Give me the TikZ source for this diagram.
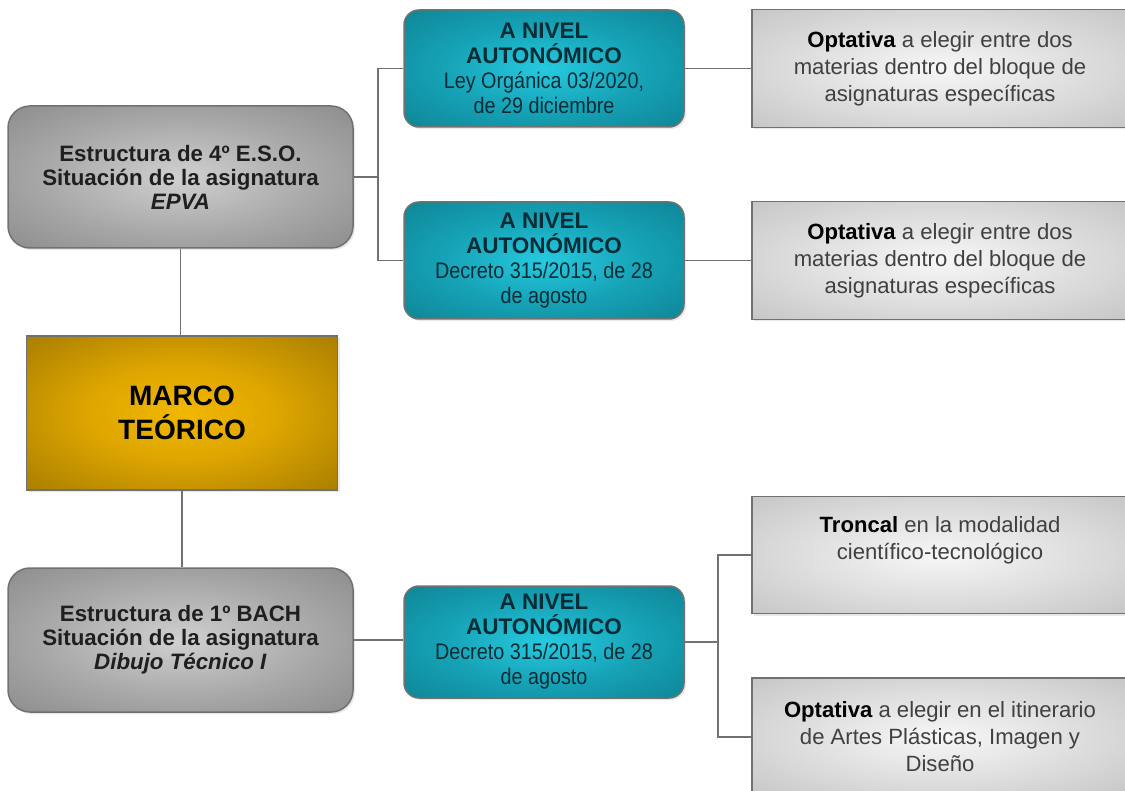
\documentclass[tikz,border=0pt]{standalone}
\usepackage{fontspec}
\setmainfont{Liberation Sans}
\newfontfamily\narrowfont[FakeStretch=0.88]{Liberation Sans}
\usepackage{tikz}
\usetikzlibrary{shadows}

\definecolor{linea}{HTML}{717171}
\definecolor{textoteal}{HTML}{062C36}

\pgfdeclareradialshading{sombragris}{\pgfpoint{0bp}{0bp}}{color(0bp)=(rgb,255:red,208;green,208;blue,208); color(20bp)=(rgb,255:red,168;green,168;blue,168); color(40bp)=(rgb,255:red,133;green,133;blue,133); color(50bp)=(rgb,255:red,120;green,120;blue,120); color(71bp)=(rgb,255:red,110;green,110;blue,110)}
\pgfdeclareradialshading{sombrateal}{\pgfpoint{0bp}{0bp}}{color(0bp)=(rgb,255:red,38;green,202;blue,224); color(18bp)=(rgb,255:red,22;green,162;blue,182); color(38bp)=(rgb,255:red,13;green,130;blue,146); color(50bp)=(rgb,255:red,11;green,118;blue,132); color(71bp)=(rgb,255:red,10;green,106;blue,118)}
\pgfdeclareradialshading{sombraoro}{\pgfpoint{0bp}{0bp}}{color(0bp)=(rgb,255:red,242;green,183;blue,0); color(15bp)=(rgb,255:red,222;green,166;blue,0); color(32bp)=(rgb,255:red,178;green,133;blue,0); color(50bp)=(rgb,255:red,146;green,110;blue,0); color(71bp)=(rgb,255:red,130;green,98;blue,0)}
\pgfdeclareradialshading{sombraplata}{\pgfpoint{0bp}{0bp}}{color(0bp)=(rgb,255:red,247;green,247;blue,247); color(20bp)=(rgb,255:red,220;green,220;blue,220); color(40bp)=(rgb,255:red,192;green,192;blue,192); color(50bp)=(rgb,255:red,178;green,178;blue,178); color(71bp)=(rgb,255:red,165;green,165;blue,165)}

\tikzset{
  caja/.style={draw=linea, line width=1.5pt, align=center, inner sep=0pt, shade,
    drop shadow={opacity=0.18, shadow xshift=2pt, shadow yshift=-2pt}},
  estructura/.style={caja, rounded corners=22pt, shading=sombragris,
    minimum width=345pt, minimum height=142pt, text=black!88,
    font=\fontsize{22.3}{24}\selectfont\bfseries},
  autonomico/.style={caja, rounded corners=15pt, shading=sombrateal,
    minimum width=280pt, minimum height=117pt, text=textoteal,
    font=\fontsize{22.5}{25}\selectfont},
  materia/.style={caja, shading=sombraplata,
    minimum width=376pt, minimum height=118pt, text=black!75,
    font=\fontsize{22.1}{27}\selectfont},
  conector/.style={draw=linea, line width=1.5pt}
}

\begin{document}
\begin{tikzpicture}[x=1pt,y=-1pt]
        \useasboundingbox (0,0) rectangle (1125,791);
        \clip (0,0) rectangle (1125,791);

        %CONECTORES
        \coordinate (busA) at (378,177);
        \coordinate (busC) at (718,642);

        %CAJAS IZQUIERDA
        \node[estructura] (eso) at (180.5,177) {Estructura de 4º E.S.O.\\Situación de la asignatura\\\textit{EPVA}};
        \node[caja, shading=sombraoro, minimum width=311pt, minimum height=154pt, text=black, font=\fontsize{28}{34}\selectfont\bfseries] (marco) at (182,413) {MARCO\\TEÓRICO};
        \node[estructura, minimum height=144pt] (bach) at (180.5,640) {Estructura de 1º BACH\\Situación de la asignatura\\\textit{Dibujo Técnico I}};

        %A NIVEL AUTONOMICO
        \node[autonomico] (autA) at (544,68.5) {\textbf{A NIVEL}\\\textbf{AUTONÓMICO}\\{\narrowfont Ley Orgánica 03/2020,}\\{\narrowfont de 29 diciembre}};
        \node[autonomico] (autB) at (544,260.5) {\textbf{A NIVEL}\\\textbf{AUTONÓMICO}\\{\narrowfont Decreto 315/2015, de 28}\\{\narrowfont de agosto}};
        \node[autonomico, minimum height=112pt] (autC) at (544,642) {\textbf{A NIVEL}\\\textbf{AUTONÓMICO}\\{\narrowfont Decreto 315/2015, de 28}\\{\narrowfont de agosto}};

        %MATERIAS
        \node[materia] (optA) at (940,68.5) {\textbf{\color{black}Optativa} a elegir entre dos\\materias dentro del bloque de\\asignaturas específicas};
        \node[materia] (optB) at (940,260.5) {\textbf{\color{black}Optativa} a elegir entre dos\\materias dentro del bloque de\\asignaturas específicas};
        \node[materia, minimum height=117pt] (tronc) at (940,555) {\textbf{\color{black}Troncal} en la modalidad\\científico-tecnológico\\[8pt]};
        \node[materia] (optC) at (940,737) {\textbf{\color{black}Optativa} a elegir en el itinerario\\de Artes Plásticas, Imagen y\\Diseño};

        %LINEAS
        \draw[conector] (eso.east) -- (busA);
        \draw[conector] (autA.west) -| (busA) |- (autB.west);
        \draw[conector] (autA.east) -- (optA.west);
        \draw[conector] (autB.east) -- (optB.west);
        \draw[conector] (eso.south) -- (eso.south |- marco.north);
        \draw[conector] (marco.south) -- (marco.south |- bach.north);
        \draw[conector] (bach.east) -- (bach.east -| autC.west);
        \draw[conector] (autC.east) -- (busC);
        \draw[conector] (tronc.west) -| (busC) |- (optC.west);
    \end{tikzpicture}
\end{document}
